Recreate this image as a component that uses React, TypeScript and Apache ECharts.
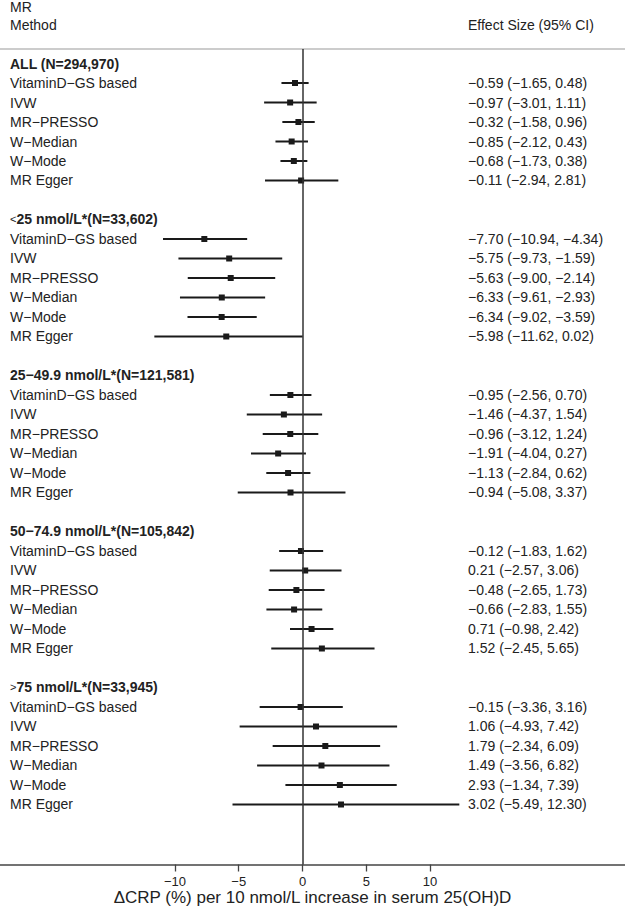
import React, { useEffect, useRef } from 'react';
import * as echarts from 'echarts';

const groupLabels = [
  'ALL (N=294,970)',
  '<25 nmol/L*(N=33,602)',
  '25−49.9 nmol/L*(N=121,581)',
  '50−74.9 nmol/L*(N=105,842)',
  '>75 nmol/L*(N=33,945)',
];

const methods = ['VitaminD−GS based', 'IVW', 'MR−PRESSO', 'W−Median', 'W−Mode', 'MR Egger'];

const estimate = [
  [-0.59, -0.97, -0.32, -0.85, -0.68, -0.11],
  [-7.7, -5.75, -5.63, -6.33, -6.34, -5.98],
  [-0.95, -1.46, -0.96, -1.91, -1.13, -0.94],
  [-0.12, 0.21, -0.48, -0.66, 0.71, 1.52],
  [-0.15, 1.06, 1.79, 1.49, 2.93, 3.02],
];

const lowerCI = [
  [-1.65, -3.01, -1.58, -2.12, -1.73, -2.94],
  [-10.94, -9.73, -9.0, -9.61, -9.02, -11.62],
  [-2.56, -4.37, -3.12, -4.04, -2.84, -5.08],
  [-1.83, -2.57, -2.65, -2.83, -0.98, -2.45],
  [-3.36, -4.93, -2.34, -3.56, -1.34, -5.49],
];

const upperCI = [
  [0.48, 1.11, 0.96, 0.43, 0.38, 2.81],
  [-4.34, -1.59, -2.14, -2.93, -3.59, 0.02],
  [0.7, 1.54, 1.24, 0.27, 0.62, 3.37],
  [1.62, 3.06, 1.73, 1.55, 2.42, 5.65],
  [3.16, 7.42, 6.09, 6.82, 7.39, 12.3],
];

const xTicks = [-10, -5, 0, 5, 10];

const FONT = "'Liberation Sans', Arial, Helvetica, sans-serif";
const INK = '#222222';

const fmt = (v: number) => v.toFixed(2).replace('-', '−');

function headerRich(label: string) {
  const first = label.charAt(0);
  if (first === '<' || first === '>') {
    return `{s|${first}}{b|${label.slice(1)}}`;
  }
  return `{b|${label}}`;
}

export default function App() {
  const ref = useRef<HTMLDivElement>(null);

  useEffect(() => {
    if (!ref.current) return;
    const chart = echarts.init(ref.current, undefined, { renderer: 'svg' });

    // rows: [rowIndex, est, lo, hi, kind, groupIdx, methodIdx]
    const data: number[][] = [];
    let r = 0;
    groupLabels.forEach((_, g) => {
      data.push([r, 0, 0, 0, 0, g, -1]);
      r++;
      methods.forEach((_, m) => {
        data.push([r, estimate[g][m], lowerCI[g][m], upperCI[g][m], 1, g, m]);
        r++;
      });
      r++;
    });

    const textBase = { fill: INK, fontFamily: FONT, fontSize: 14, verticalAlign: 'middle', align: 'left' };

    const option: any = {
      animation: false,
      textStyle: { fontFamily: FONT },
      grid: { left: 0, right: 0, top: 49, bottom: 44.5, containLabel: false, outerBoundsMode: 'none' },
      xAxis: {
        type: 'value',
        min: -23.725,
        max: 25.294,
        splitLine: { show: false },
        axisLine: { show: true, onZero: false, lineStyle: { color: '#444', width: 1.5 } },
        axisTick: { show: true, customValues: xTicks, length: 7, lineStyle: { color: '#444', width: 1.3 } },
        axisLabel: {
          customValues: xTicks,
          color: INK,
          fontSize: 13,
          margin: 10,
          formatter: (v: number) => String(v).replace('-', '−'),
        },
        name: 'ΔCRP (%) per 10 nmol/L increase in serum 25(OH)D',
        nameLocation: 'middle',
        nameGap: 24,
        nameMoveOverlap: false,
        nameTextStyle: { color: INK, fontSize: 17, fontFamily: FONT },
      },
      yAxis: {
        type: 'value',
        inverse: true,
        min: -0.7436,
        max: 41.077,
        show: false,
      },
      graphic: [
        { type: 'line', shape: { x1: 0, y1: 49, x2: 625, y2: 49 }, style: { stroke: '#cccccc', lineWidth: 2 } },
        { type: 'text', x: 10, y: 7, style: { ...textBase, text: 'MR' } },
        { type: 'text', x: 10, y: 25, style: { ...textBase, text: 'Method' } },
        { type: 'text', x: 468, y: 25, style: { ...textBase, text: 'Effect Size (95% CI)' } },
      ],
      series: [
        {
          type: 'custom',
          clip: false,
          data,
          encode: { x: [1, 2, 3], y: 0 },
          renderItem: (_params: any, api: any) => {
            const row = api.value(0);
            const kind = api.value(4);
            const g = api.value(5);
            const m = api.value(6);
            const y = api.coord([0, row])[1];
            if (kind === 0) {
              return {
                type: 'text',
                x: 10,
                y,
                style: {
                  ...textBase,
                  text: headerRich(groupLabels[g]),
                  rich: {
                    b: { fontWeight: 'bold', fontSize: 14, fill: INK, fontFamily: FONT },
                    s: { fontWeight: 'normal', fontSize: 11, fill: INK, fontFamily: FONT },
                  },
                },
              };
            }
            const est = api.value(1);
            const lo = api.value(2);
            const hi = api.value(3);
            const pLo = api.coord([lo, row]);
            const pHi = api.coord([hi, row]);
            const pE = api.coord([est, row]);
            const sq = 6;
            return {
              type: 'group',
              children: [
                { type: 'text', x: 10, y, style: { ...textBase, text: methods[m] } },
                {
                  type: 'line',
                  shape: { x1: pLo[0], y1: y, x2: pHi[0], y2: y },
                  style: { stroke: '#1a1a1a', lineWidth: 2 },
                },
                {
                  type: 'rect',
                  shape: { x: pE[0] - sq / 2, y: y - sq / 2, width: sq, height: sq },
                  style: { fill: '#1a1a1a' },
                },
                {
                  type: 'text',
                  x: 468,
                  y,
                  style: { ...textBase, text: `${fmt(est)} (${fmt(lo)}, ${fmt(hi)})` },
                },
              ],
            };
          },
          markLine: {
            silent: true,
            symbol: ['none', 'none'],
            label: { show: false },
            lineStyle: { color: '#333', width: 1.5, type: 'solid' },
            data: [{ xAxis: 0 }],
          },
        },
      ],
    };

    chart.setOption(option);
    return () => chart.dispose();
  }, []);

  return (
    <div
      ref={ref}
      style={{ position: 'fixed', left: 0, top: 0, width: 625, height: 909, background: '#fff' }}
    />
  );
}
